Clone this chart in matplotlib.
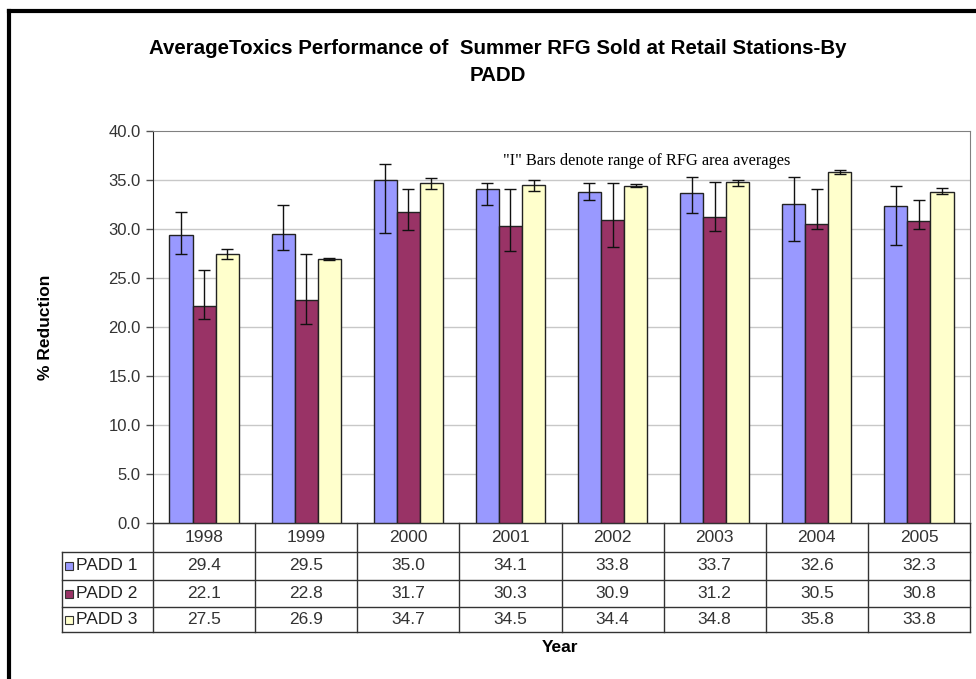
import numpy as np
import matplotlib.pyplot as plt
from matplotlib.lines import Line2D
from matplotlib.patches import Rectangle

years = ["1998", "1999", "2000", "2001", "2002", "2003", "2004", "2005"]
series = ["PADD 1", "PADD 2", "PADD 3"]
padd1 = [29.4, 29.5, 35.0, 34.1, 33.8, 33.7, 32.6, 32.3]
padd2 = [22.1, 22.8, 31.7, 30.3, 30.9, 31.2, 30.5, 30.8]
padd3 = [27.5, 26.9, 34.7, 34.5, 34.4, 34.8, 35.8, 33.8]
# range of RFG area averages (low, high)
padd1_lo = [27.5, 27.9, 29.6, 32.5, 33.0, 31.6, 28.8, 28.4]
padd1_hi = [31.7, 32.5, 36.6, 34.7, 34.7, 35.3, 35.3, 34.4]
padd2_lo = [20.8, 20.3, 29.9, 27.8, 28.2, 29.8, 30.0, 30.0]
padd2_hi = [25.8, 27.4, 34.1, 34.1, 34.7, 34.8, 34.1, 33.0]
padd3_lo = [26.9, 26.85, 34.1, 33.9, 34.3, 34.4, 35.6, 33.6]
padd3_hi = [28.0, 27.0, 35.2, 35.0, 34.6, 35.0, 36.0, 34.2]

colors = ["#9999FF", "#993366", "#FFFFCC"]
font = "Liberation Sans"

fig = plt.figure(figsize=(9.76, 6.79), dpi=100)
W, H = 976, 679
ax = fig.add_axes([153 / W, 1 - 523 / H, (970 - 153) / W, 392 / H])

x = np.arange(len(years))
w = 0.226
vals = [padd1, padd2, padd3]
lows = [padd1_lo, padd2_lo, padd3_lo]
highs = [padd1_hi, padd2_hi, padd3_hi]
for i in range(3):
    v = np.array(vals[i])
    err = [v - np.array(lows[i]), np.array(highs[i]) - v]
    ax.bar(x + (i - 1) * w, v, w, color=colors[i], edgecolor="#222222",
           linewidth=1, zorder=3)
    ax.errorbar(x + (i - 1) * w, v, yerr=err, fmt="none", ecolor="#111111",
                elinewidth=1, capsize=4, capthick=1, zorder=4)

ax.set_xlim(-0.5, len(years) - 0.5)
ax.set_ylim(0, 40)
ax.set_yticks(np.arange(0, 41, 5))
ax.set_yticklabels([f"{t:.1f}" for t in np.arange(0, 41, 5)], family=font,
                   fontsize=12, color="#333333")
ax.set_xticks([])
ax.tick_params(axis="y", direction="out", length=5, width=1, color="#555555", pad=4)
for t in np.arange(5, 40, 5):
    ax.axhline(t, color="#C8C8C8", lw=1, zorder=1)
ax.spines["left"].set_color("#222222")
ax.spines["top"].set_color("#808080")
ax.spines["right"].set_color("#808080")
ax.spines["bottom"].set_color("#333333")

ax.text(4.33, 36.9, '"I" Bars denote range of RFG area averages',
        family="Liberation Serif", fontsize=11.8, ha="center", va="center")

# data table under the plot
def fy(py):
    return (523 - py) / 392

def fx(px):
    return (px - 153) / 817

row_y = [523, 552, 580, 607, 632]
tk = dict(transform=ax.transAxes, clip_on=False, color="#333333", lw=1)
ax.add_line(Line2D([0, 1], [fy(row_y[0])] * 2, **tk))
for ry in row_y[1:]:
    ax.add_line(Line2D([fx(62), 1], [fy(ry)] * 2, **tk))
for j in range(len(years) + 1):
    ax.add_line(Line2D([j / len(years)] * 2, [fy(523), fy(632)], **tk))
ax.add_line(Line2D([fx(62)] * 2, [fy(552), fy(632)], **tk))

for j, yr in enumerate(years):
    ax.text((j + 0.5) / len(years), fy(537.5), yr, transform=ax.transAxes,
            ha="center", va="center", family=font, fontsize=12.5, color="#333333")
for i in range(3):
    cy = fy((row_y[i + 1] + row_y[i + 2]) / 2)
    ax.add_patch(Rectangle((fx(65), cy - 4 / 392), 8 / 817, 8 / 392,
                           transform=ax.transAxes, clip_on=False,
                           facecolor=colors[i], edgecolor="#333333", lw=0.8))
    ax.text(fx(76), cy, series[i], transform=ax.transAxes, ha="left",
            va="center", family=font, fontsize=12.5, color="#222222")
    for j in range(len(years)):
        ax.text((j + 0.5) / len(years), cy, f"{vals[i][j]:.1f}",
                transform=ax.transAxes, ha="center", va="center",
                family=font, fontsize=12.5, color="#333333")

fig.text(498 / W, 1 - 62 / H,
         "AverageToxics Performance of  Summer RFG Sold at Retail Stations-By\nPADD",
         ha="center", va="center", family=font, fontsize=14.8, weight="bold",
         linespacing=1.55)
fig.text(45 / W, 1 - 327 / H, "% Reduction", rotation=90, ha="center",
         va="center", family=font, fontsize=12.5, weight="bold")
fig.text(560 / W, 1 - 648 / H, "Year", ha="center", va="center", family=font,
         fontsize=12.5, weight="bold")

# black frame at top and left
fig.add_artist(Line2D([9 / W, 1], [1 - 11 / H] * 2, color="black", lw=3,
                      transform=fig.transFigure))
fig.add_artist(Line2D([9 / W] * 2, [0, 1 - 11 / H], color="black", lw=3,
                      transform=fig.transFigure))

fig.savefig("out.png", dpi=100, facecolor="white")
